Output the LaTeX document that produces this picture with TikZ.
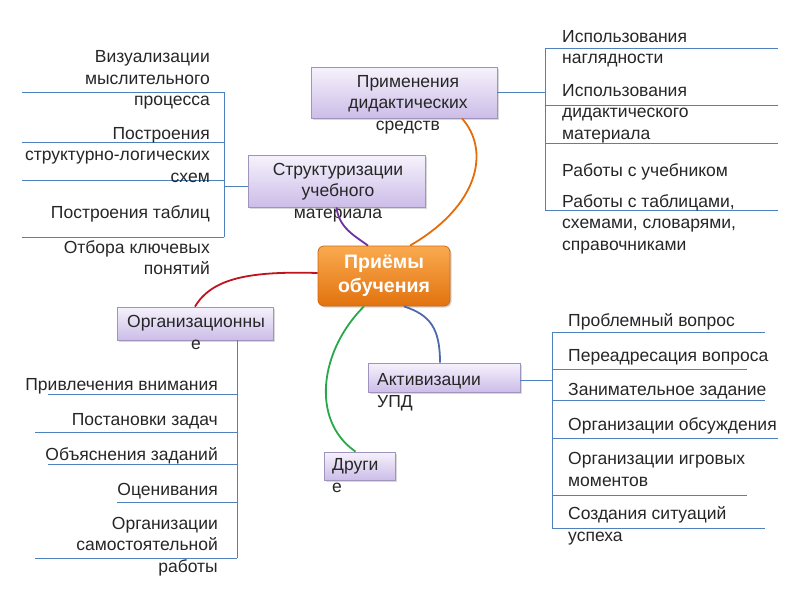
\documentclass[tikz,border=0pt]{standalone}
\usepackage{fontspec}
\setmainfont{Liberation Sans}
\usetikzlibrary{shadows}

\definecolor{branchblue}{RGB}{79,129,189}
\definecolor{txt}{RGB}{38,38,38}
\definecolor{boxtop}{RGB}{246,242,252}
\definecolor{boxbot}{RGB}{204,189,232}
\definecolor{boxline}{RGB}{160,148,190}
\definecolor{ortop}{RGB}{250,170,80}
\definecolor{orbot}{RGB}{226,115,14}
\definecolor{orline}{RGB}{205,105,20}
\definecolor{linkred}{RGB}{190,20,30}
\definecolor{linkpurple}{RGB}{112,48,160}
\definecolor{linkorange}{RGB}{228,108,10}
\definecolor{linkblue}{RGB}{79,105,175}
\definecolor{linkgreen}{RGB}{40,168,72}

\begin{document}
\begin{tikzpicture}[x=1pt, y=-1pt,
		box/.style={draw=boxline, line width=0.8pt, top color=boxtop, bottom color=boxbot,
			drop shadow={shadow xshift=1.5pt, shadow yshift=-1.5pt, opacity=0.3}},
		mainbox/.style={draw=orline, line width=0.8pt, rounded corners=6pt, top color=ortop, bottom color=orbot,
			text=white, align=center, font=\bfseries\fontsize{19.5}{24}\selectfont,
			drop shadow={shadow xshift=1.5pt, shadow yshift=-1.5pt, opacity=0.35}},
		item/.style={font=\fontsize{17.5}{21.5}\selectfont, text=txt, inner sep=0pt},
		itemL/.style={item, anchor=base east, align=right},
		itemR/.style={item, anchor=base west, align=left},
		itemC/.style={item, anchor=base, align=center},
		branch/.style={draw=branchblue, line width=1pt},
		link/.style={line width=1.8pt}
	]
	\useasboundingbox (0,0) rectangle (800,600);

	% Centre and the five boxes
	\node[mainbox, minimum width=132pt, minimum height=60pt] (priem) at (384,276) {Приёмы\\обучения};
	\node[box, minimum width=186pt, minimum height=51pt] (prim) at (404,92.5) {};
	\node[box, minimum width=177pt, minimum height=52pt] (struct) at (336.5,181) {};
	\node[box, minimum width=156pt, minimum height=33pt] (org) at (195,323.5) {};
	\node[box, minimum width=152pt, minimum height=29pt] (aktiv) at (444,377.5) {};
	\node[box, minimum width=71pt, minimum height=28pt] (drug) at (359.5,466) {};

	% Box texts (they run over the boxes), placed by their last line
	\node[itemC] (primtxt) at (408,130) {Применения\\дидактических\\средств};
	\node[itemC] (structtxt) at (338,218) {Структуризации\\учебного\\материала};
	\node[itemC] (orgtxt) at (196,349) {Организационны\\е};
	\node[itemR] (aktivtxt) at (377,407) {Активизации\\УПД};
	\node[itemR] (drugtxt) at (332,492) {Други\\е};

	% Curved links from the centre
	\draw[link, linkred] (org.north) .. controls (212,278) and (250,271) .. ([yshift=3pt]priem.west);
	\draw[link, linkpurple] (struct.south) .. controls (339,228) and (355,236) .. ([xshift=-16pt]priem.north);
	\draw[link, linkorange] ([xshift=58pt]prim.south) .. controls (490,150) and (480,205) .. ([xshift=26pt]priem.north);
	\draw[link, linkblue] ([xshift=20pt]priem.south) .. controls (430,315) and (440,328) .. ([xshift=-4pt]aktiv.north);
	\draw[link, linkgreen] ([xshift=-20pt]priem.south) .. controls (320,350) and (310,420) .. ([xshift=-4pt]drug.north);

	% Structuring branch
	\coordinate (structsp) at (224,186);
	\draw[branch] ([yshift=-5pt]struct.west) -- (structsp);
	\draw[branch] (224,92) -- (224,237);
	\foreach \y in {92,142,180,237}
		\draw[branch] (22,\y) -- (224,\y);
	\node[itemL] (vis) at (210,105.5) {Визуализации\\мыслительного\\процесса};
	\node[itemL] (postr) at (210,182) {Построения\\структурно-логических\\схем};
	\node[itemL] (tabl) at (210,218) {Построения таблиц};
	\node[itemL] (klyuch) at (210,274.5) {Отбора ключевых\\понятий};

	% Didactic means branch
	\coordinate (primsp) at (545,92.5);
	\draw[branch] (prim.east) -- (primsp);
	\draw[branch] (545,48) -- (545,210);
	\foreach \y in {48,105,143,210}
		\draw[branch] (545,\y) -- (778,\y);
	\node[itemR] (naglyad) at (562,63.5) {Использования\\наглядности};
	\node[itemR] (didmat) at (562,139) {Использования\\дидактического\\материала};
	\node[itemR] (ucheb) at (562,176.5) {Работы с учебником};
	\node[itemR] (tablic) at (562,250) {Работы с таблицами,\\схемами, словарями,\\справочниками};

	% Organisational branch
	\coordinate (orgsp) at (237,340);
	\draw[branch] (orgsp) -- (237,558);
	\foreach \x/\y in {48/394, 35/432, 48/464, 117/502, 35/558}
		\draw[branch] (\x,\y) -- (237,\y);
	\node[itemL] (vnim) at (218,390) {Привлечения внимания};
	\node[itemL] (zadach) at (218,425) {Постановки задач};
	\node[itemL] (obyasn) at (218,460) {Объяснения заданий};
	\node[itemL] (ocen) at (218,495) {Оценивания};
	\node[itemL] (samost) at (218,572) {Организации\\самостоятельной\\работы};

	% Activation branch
	\coordinate (aktivsp) at (552,380);
	\draw[branch] ([yshift=-2.5pt]aktiv.east) -- (aktivsp);
	\draw[branch] (552,332) -- (552,528);
	\foreach \y/\x in {332/765, 369/747, 400/765, 438/778, 495/747, 528/765}
		\draw[branch] (552,\y) -- (\x,\y);
	\node[itemR] (probl) at (568,326.5) {Проблемный вопрос};
	\node[itemR] (pereadr) at (568,361.5) {Переадресация вопроса};
	\node[itemR] (zanim) at (568,395) {Занимательное задание};
	\node[itemR] (obsuzh) at (568,430) {Организации обсуждения};
	\node[itemR] (igr) at (568,486) {Организации игровых\\моментов};
	\node[itemR] (uspeh) at (568,541) {Создания ситуаций\\успеха};
\end{tikzpicture}
\end{document}
